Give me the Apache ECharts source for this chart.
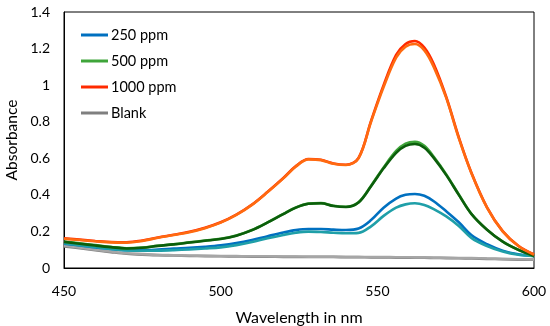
<!DOCTYPE html>
<html>
<head>
<meta charset="utf-8">
<script src="https://cdn.jsdelivr.net/npm/echarts@6/dist/echarts.min.js"></script>
<style>
  html, body { margin: 0; padding: 0; background: #fff; }
  #chart { width: 550px; height: 326px; }
</style>
</head>
<body>
<div id="chart"></div>
<script>
// Wavelength sampling points (nm)
const wavelengths = [450,455,460,465,470,475,480,485,490,495,500,505,510,515,520,524,528,532,536,540,544,548,552,556,559,562,565,568,572,576,580,585,590,595,600];

// Absorbance values
const ppm250  = [0.133,0.123,0.113,0.104,0.098,0.098,0.101,0.106,0.110,0.116,0.124,0.136,0.153,0.174,0.194,0.207,0.213,0.213,0.210,0.208,0.216,0.262,0.330,0.380,0.400,0.405,0.395,0.365,0.310,0.250,0.180,0.130,0.095,0.075,0.066];
const ppm250b = [0.136,0.125,0.114,0.104,0.096,0.094,0.095,0.098,0.102,0.107,0.113,0.125,0.142,0.163,0.181,0.193,0.199,0.197,0.193,0.190,0.192,0.228,0.285,0.330,0.348,0.354,0.345,0.322,0.282,0.230,0.165,0.120,0.090,0.072,0.065];
const ppm500  = [0.145,0.135,0.125,0.115,0.108,0.112,0.122,0.130,0.140,0.150,0.160,0.178,0.208,0.250,0.296,0.331,0.352,0.355,0.340,0.335,0.360,0.450,0.550,0.640,0.680,0.690,0.668,0.608,0.512,0.402,0.297,0.210,0.145,0.100,0.066];
const ppm500b = [0.143,0.133,0.123,0.114,0.107,0.111,0.121,0.129,0.139,0.149,0.159,0.177,0.207,0.249,0.295,0.330,0.351,0.354,0.339,0.334,0.358,0.447,0.545,0.630,0.668,0.678,0.658,0.602,0.508,0.400,0.296,0.209,0.144,0.099,0.066];
const ppm1000 = [0.162,0.155,0.148,0.142,0.141,0.150,0.167,0.182,0.198,0.220,0.250,0.292,0.347,0.417,0.492,0.557,0.596,0.592,0.572,0.565,0.602,0.805,1.000,1.165,1.225,1.241,1.205,1.115,0.935,0.715,0.522,0.332,0.202,0.122,0.074];
const ppm1000b= [0.160,0.153,0.146,0.140,0.139,0.148,0.165,0.180,0.196,0.218,0.248,0.290,0.345,0.415,0.490,0.555,0.594,0.590,0.570,0.563,0.600,0.800,0.990,1.150,1.210,1.225,1.190,1.100,0.930,0.710,0.520,0.330,0.200,0.120,0.073];
const blank   = [0.118,0.108,0.097,0.087,0.078,0.073,0.070,0.068,0.066,0.065,0.064,0.063,0.062,0.062,0.061,0.061,0.060,0.060,0.060,0.059,0.059,0.058,0.058,0.057,0.057,0.056,0.056,0.055,0.054,0.053,0.052,0.050,0.048,0.046,0.045];
const blankb  = [0.123,0.112,0.100,0.090,0.081,0.076,0.072,0.070,0.068,0.067,0.066,0.065,0.064,0.064,0.063,0.063,0.062,0.062,0.062,0.061,0.061,0.060,0.060,0.059,0.059,0.058,0.058,0.057,0.056,0.055,0.054,0.052,0.050,0.048,0.047];

const legendNames = ['250 ppm','500 ppm','1000 ppm','Blank'];
const xTicks = [450, 500, 550, 600];
const yTicks = [0, 0.2, 0.4, 0.6, 0.8, 1, 1.2, 1.4];

const FONT = 'Lato';
function pairs(vals) { return wavelengths.map((w, i) => [w, vals[i]]); }
function line(name, vals, color, z) {
  return {
    name: name, type: 'line', data: pairs(vals), smooth: 0.35,
    symbol: 'none', showSymbol: false, z: z,
    lineStyle: { color: color, width: 2.6 }, itemStyle: { color: color },
    emphasis: { disabled: true }
  };
}

const chart = echarts.init(document.getElementById('chart'), null, { renderer: 'canvas' });
chart.setOption({
  animation: false,
  backgroundColor: '#ffffff',
  grid: { left: 64, right: 16, top: 12, bottom: 58, show: true, borderColor: '#000', borderWidth: 1,
          backgroundColor: 'transparent', containLabel: false, outerBoundsMode: 'none' },
  legend: {
    data: legendNames, orient: 'vertical', left: 81, top: 27, padding: 0,
    icon: 'rect', itemWidth: 27, itemHeight: 3, itemGap: 10,
    textStyle: { fontFamily: FONT, fontSize: 14.5, color: '#000', lineHeight: 16, padding: [0, 0, 0, -2] }
  },
  xAxis: {
    type: 'value', min: xTicks[0], max: xTicks[xTicks.length - 1], interval: 50,
    name: 'Wavelength in nm', nameLocation: 'middle', nameGap: 42,
    nameTextStyle: { fontFamily: FONT, fontSize: 16, color: '#000' },
    axisLine: { show: true, lineStyle: { color: '#000', width: 1 } },
    axisTick: { show: false }, splitLine: { show: false },
    axisLabel: { fontFamily: FONT, fontSize: 14, color: '#000', margin: 16 }
  },
  yAxis: {
    type: 'value', min: yTicks[0], max: yTicks[yTicks.length - 1], interval: 0.2,
    name: 'Absorbance', nameLocation: 'middle', nameGap: 44,
    nameTextStyle: { fontFamily: FONT, fontSize: 15.5, color: '#000' },
    axisLine: { show: true, lineStyle: { color: '#000', width: 1 } },
    axisTick: { show: false }, splitLine: { show: false },
    axisLabel: { fontFamily: FONT, fontSize: 14, color: '#000', margin: 14,
      formatter: v => String(Math.round(v * 10) / 10) }
  },
  series: [
    line('Blank', blank, '#7f7f7f', 2),
    line('Blank b', blankb, '#a6a6a6', 2),
    line('250 ppm', ppm250, '#0070c0', 3),
    line('250 ppm b', ppm250b, '#1f9fa8', 3),
    line('500 ppm', ppm500, '#3fa53a', 4),
    line('500 ppm b', ppm500b, '#0b5e0b', 4),
    line('1000 ppm', ppm1000, '#ff2a00', 5),
    line('1000 ppm b', ppm1000b, '#ff6a10', 5)
  ]
});
</script>
</body>
</html>
